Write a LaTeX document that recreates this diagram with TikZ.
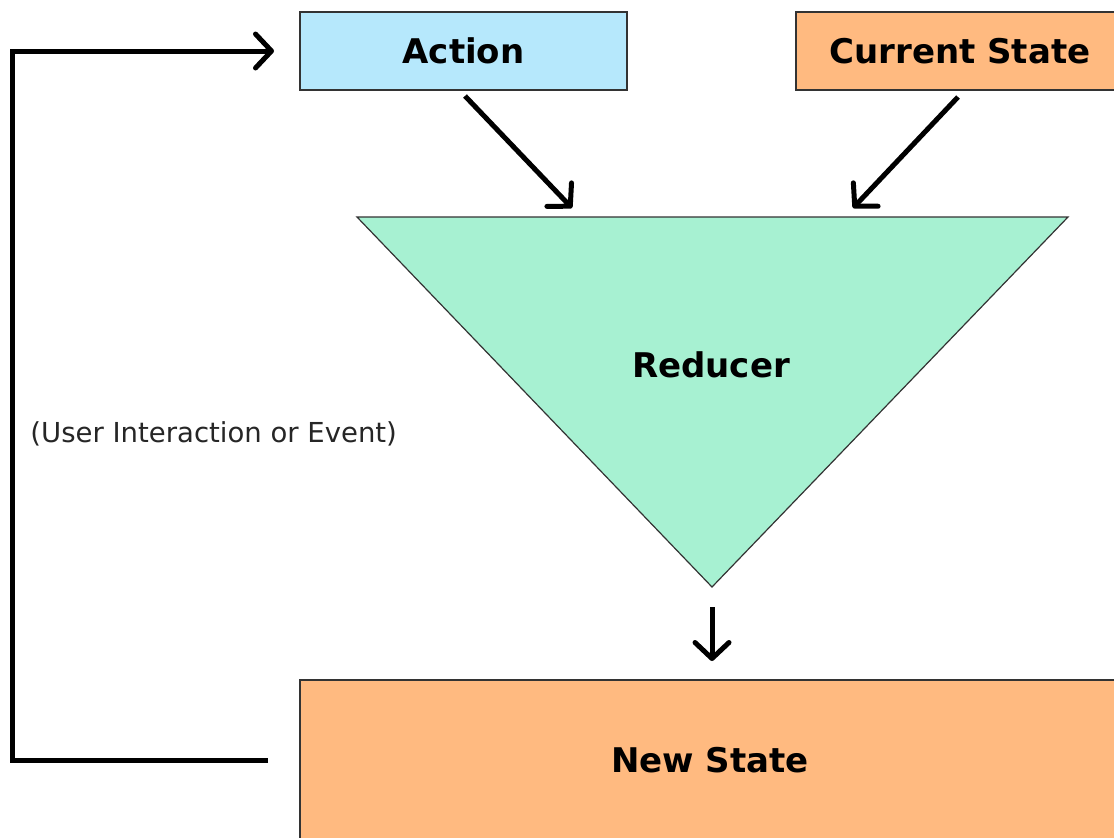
\documentclass[tikz,border=0pt]{standalone}
\usepackage{fontspec}
\setmainfont{DejaVu Sans}
\usepackage{tikz}
\usetikzlibrary{arrows.meta,calc,positioning}
\definecolor{actionblue}{HTML}{B6E8FC}
\definecolor{stateorange}{HTML}{FFBA80}
\definecolor{reducergreen}{HTML}{A7F1D2}
\definecolor{boxline}{HTML}{333333}
\newcommand{\bigbold}{\fontsize{34}{40}\selectfont\bfseries}
\tikzset{
	box/.style={draw=boxline,line width=1.5pt,inner sep=0pt,outer sep=0pt,font=\bigbold},
	flow/.style={line width=5pt,-{Straight Barb[length=16pt,width=34pt,line width=5pt,round]}}
}

\begin{document}
\begin{tikzpicture}[x=1pt,y=-1pt]
  \useasboundingbox (0,0) rectangle (1114,838);
  \fill[white] (0,0) rectangle (1114,838);
  \clip (0,0) rectangle (1114,838);
  % the three boxes
  \node [box,fill=actionblue,minimum width=327pt,minimum height=78pt] (action) at (463.5,51) {Action};
  \node [box,fill=stateorange,minimum width=328pt,minimum height=78pt,right=169pt of action] (current) {Current State};
  \node [box,fill=stateorange,minimum width=820pt,minimum height=160pt,anchor=north west] (new) at (300,680) {New State};
  % reducer funnel
  \coordinate (redTL) at (357,217);
  \coordinate (redTR) at (1068,217);
  \coordinate (redB) at (712,587);
  \draw [fill=reducergreen,draw=boxline,line width=1.2pt] (redTL) -- (redTR) -- (redB) -- cycle;
  \node [font=\bigbold] (reducer) at (711,365) {Reducer};
  \coordinate (inA) at (572,208);
  \coordinate (inS) at (853,208);
  \coordinate (outN) at (712,661);
  \draw [flow] (action.south) ++(1.5,6) -- (inA);
  \draw [flow] (current.south) ++(-2,7) -- (inS);
  \draw [flow] (redB) ++(0,20) -- (outN);
  % feedback loop
  \draw [flow,shorten <=32pt,shorten >=26pt] (new.west) -- ++(-288,0) |- (action.west)
    node [pos=0.23,right=16pt,inner sep=0pt,font=\fontsize{27.5}{32}\selectfont,text=black!85] (event) {(User Interaction or Event)};
\end{tikzpicture}
\end{document}
